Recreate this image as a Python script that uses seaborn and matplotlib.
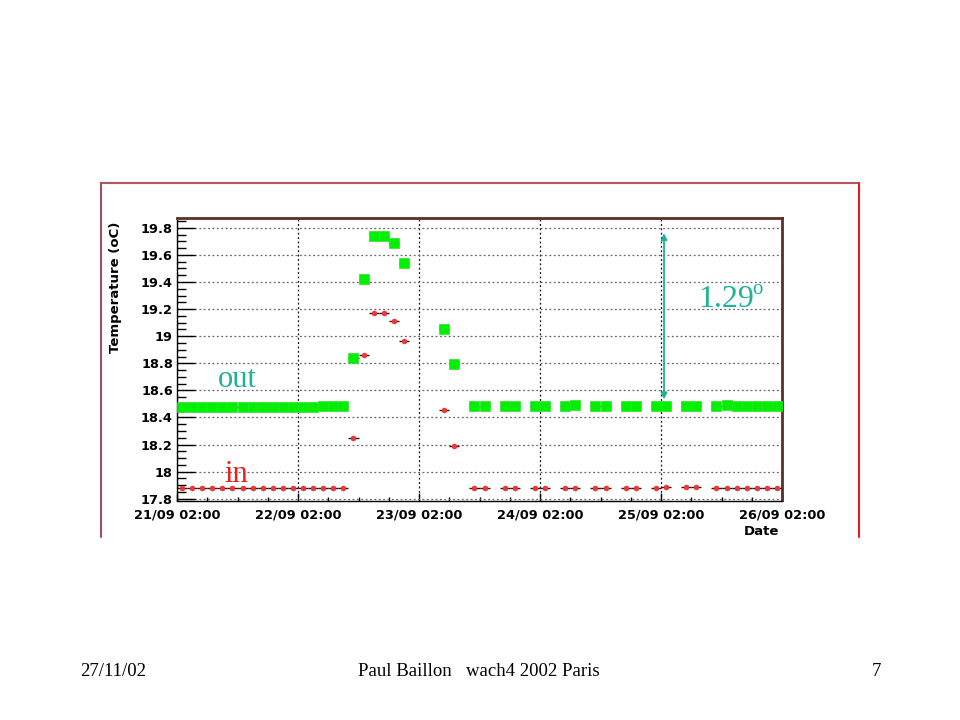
import matplotlib
matplotlib.use('Agg')
import matplotlib.pyplot as plt
import seaborn as sns
import pandas as pd
from matplotlib.ticker import MultipleLocator, FuncFormatter
from matplotlib.lines import Line2D

# hours since 21/09 02:00
hours = [1, 3, 5, 7, 9, 11, 13, 15, 17, 19, 21, 23, 25, 27, 29, 31, 33,
         35, 37, 39, 41, 43, 45,
         53, 55,
         59, 61, 65, 67, 71, 73, 77, 79, 83, 85, 89, 91, 95, 97, 101, 103,
         107, 109, 111, 113, 115, 117, 119]
temp_out = [18.48, 18.48, 18.48, 18.48, 18.48, 18.48, 18.475, 18.48, 18.475, 18.48,
            18.48, 18.48, 18.48, 18.48, 18.485, 18.485, 18.485,
            18.84, 19.42, 19.74, 19.74, 19.685, 19.54,
            19.05, 18.795,
            18.485, 18.485, 18.485, 18.485, 18.485, 18.485, 18.485, 18.49,
            18.485, 18.485, 18.485, 18.485, 18.485, 18.485, 18.485, 18.485,
            18.485, 18.49, 18.485, 18.485, 18.485, 18.485, 18.485]
temp_in = [17.88, 17.88, 17.88, 17.88, 17.88, 17.88, 17.88, 17.88, 17.88, 17.88,
           17.88, 17.88, 17.88, 17.88, 17.88, 17.88, 17.88,
           18.25, 18.86, 19.175, 19.175, 19.115, 18.965,
           18.455, 18.19,
           17.88, 17.88, 17.88, 17.88, 17.88, 17.88, 17.88, 17.88,
           17.88, 17.88, 17.88, 17.88, 17.88, 17.885, 17.885, 17.885,
           17.88, 17.88, 17.88, 17.88, 17.88, 17.88, 17.88]
bin_half_width = 1  # hours
tick_hours = [0, 24, 48, 72, 96, 120]
tick_labels = ["21/09 02:00", "22/09 02:00", "23/09 02:00",
               "24/09 02:00", "25/09 02:00", "26/09 02:00"]
delta_label = "1.29"

teal = '#1db394'
serif = 'Liberation Serif'

sns.set_theme(style='white')
plt.rcParams['font.family'] = ['DejaVu Sans']

fig = plt.figure(figsize=(9.6, 7.2), dpi=100)
fig.patch.set_facecolor('white')
ax = fig.add_axes([177/960, 1-500.5/720, 605/960, 282.8/720])
ax.set_facecolor('white')

df = pd.DataFrame({'hours': hours, 'out': temp_out, 'in': temp_in})

ax.errorbar(df['hours'], df['out'], xerr=bin_half_width, fmt='none',
            ecolor='#202020', elinewidth=1, capsize=0, zorder=2)
sns.scatterplot(data=df, x='hours', y='out', marker='s', s=44, color='#00f000',
                edgecolor='#30e030', linewidth=0.5, ax=ax, zorder=3, legend=False)
ax.errorbar(df['hours'], df['in'], xerr=bin_half_width, fmt='none',
            ecolor='#301010', elinewidth=1, capsize=0, zorder=4)
sns.scatterplot(data=df, x='hours', y='in', marker='o', s=13, color='#f03838',
                edgecolor='#c02020', linewidth=0.3, ax=ax, zorder=5, legend=False)

ax.set_xlim(0, 120)
ax.set_ylim(17.787, 19.875)
ax.set_xticks(tick_hours)
ax.set_xticklabels(tick_labels)
ax.xaxis.set_minor_locator(MultipleLocator(6))
ax.yaxis.set_major_locator(MultipleLocator(0.2))
ax.yaxis.set_minor_locator(MultipleLocator(0.05))
ax.yaxis.set_major_formatter(FuncFormatter(lambda v, p: '{:g}'.format(round(v, 2))))

ax.xaxis.grid(True, which='major', linestyle=(0, (1.5, 2)), color='#111111', lw=0.9)
ax.yaxis.grid(True, which='major', linestyle=(0, (1.5, 2)), color='#666666', lw=0.9)
ax.set_axisbelow(True)

ax.tick_params(axis='both', which='both', direction='in', color='black', width=1)
ax.tick_params(axis='y', which='major', length=13, pad=3, labelsize=9.3)
ax.tick_params(axis='y', which='minor', length=6.5)
ax.tick_params(axis='x', which='major', length=6, pad=6, labelsize=9.3)
ax.tick_params(axis='x', which='minor', length=3)
ax.tick_params(left=True, bottom=True, which='both')
for lab in ax.get_xticklabels() + ax.get_yticklabels():
    lab.set_fontweight('bold')
    lab.set_color('black')

for side in ['left', 'bottom']:
    ax.spines[side].set_color('black')
    ax.spines[side].set_linewidth(1)
for side in ['top', 'right']:
    ax.spines[side].set_color('#5a3028')
    ax.spines[side].set_linewidth(2)

ax.set_ylabel('Temperature (oC)', fontsize=9.5, fontweight='bold', color='black', loc='top')
ax.yaxis.set_label_coords(-0.091, 0.985)
ax.set_xlabel('Date', fontsize=9.5, fontweight='bold', color='black', loc='right')
ax.xaxis.set_label_coords(0.995, -0.088)

# annotation arrow
ax.annotate('', xy=(96.6, 19.76), xytext=(96.6, 18.534),
            arrowprops=dict(arrowstyle='<|-|>', color=teal, lw=1.3,
                            mutation_scale=9, shrinkA=0, shrinkB=0), zorder=6)

fig.text(698/960, 1-307/720, delta_label, ha='left', va='baseline',
         fontsize=23, family=serif, color=teal)
fig.text(752/960, 1-294/720, 'o', ha='left', va='baseline',
         fontsize=15, family=serif, color=teal)
fig.text(218/960, 1-386.7/720, 'out', ha='left', va='baseline',
         fontsize=22, family=serif, color=teal)
fig.text(224/960, 1-481.7/720, 'in', ha='left', va='baseline',
         fontsize=22, family=serif, color='#e8201e')

# canvas frame
fig.add_artist(Line2D([101/960, 859/960], [1-183/720, 1-183/720],
                      color='#b05860', lw=1.5, transform=fig.transFigure))
fig.add_artist(Line2D([101/960, 101/960], [1-183/720, 1-537/720],
                      color='#a05060', lw=1.5, transform=fig.transFigure))
fig.add_artist(Line2D([859/960, 859/960], [1-183/720, 1-537/720],
                      color='#e02020', lw=1.5, transform=fig.transFigure))

# slide footer
fig.text(80/960, 1-672/720, '27/11/02', ha='left', va='center',
         fontsize=13.5, family=serif, color='black')
fig.text(479/960, 1-672/720, 'Paul Baillon   wach4 2002 Paris', ha='center', va='center',
         fontsize=13.5, family=serif, color='black')
fig.text(876/960, 1-672/720, '7', ha='center', va='center',
         fontsize=13.5, family=serif, color='black')

fig.savefig('out.png', dpi=100, facecolor='white')
